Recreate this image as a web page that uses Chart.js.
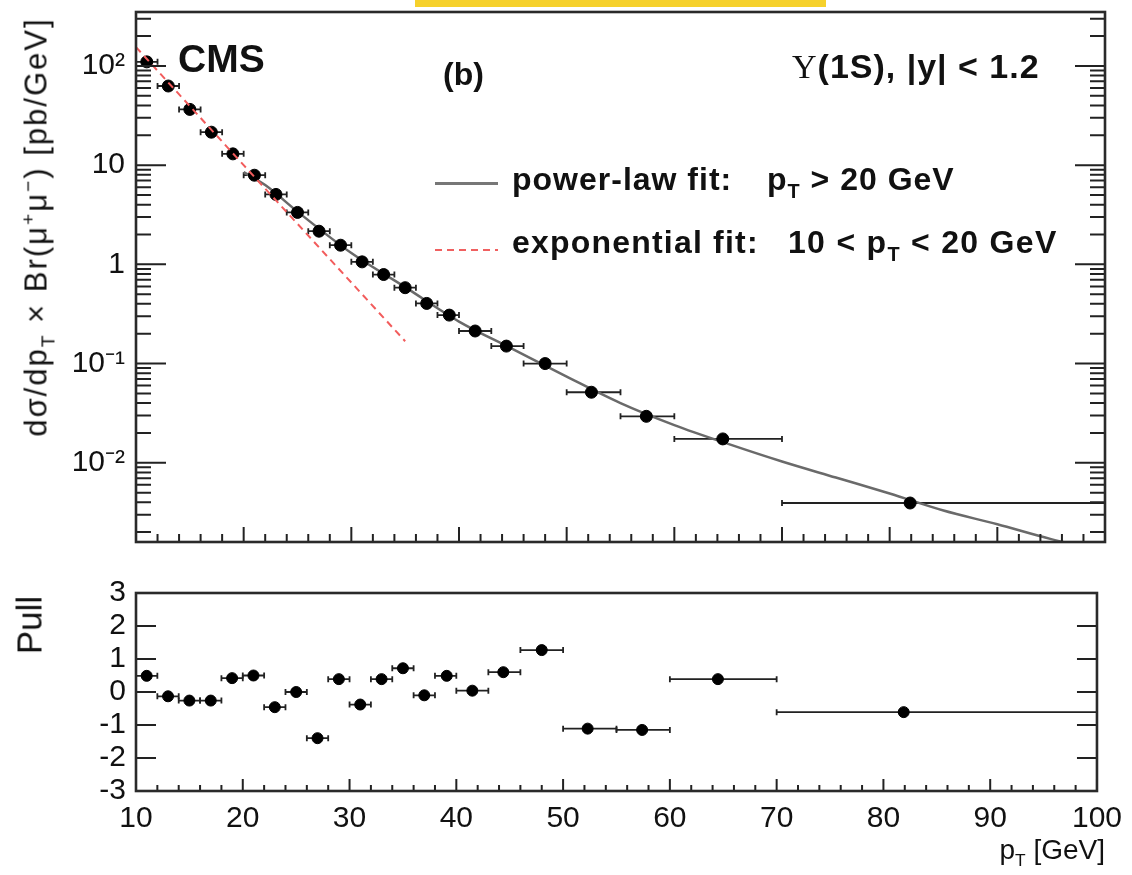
<!DOCTYPE html>
<html>
<head>
<meta charset="utf-8">
<script src="https://cdn.jsdelivr.net/npm/chart.js@4.4.1/dist/chart.umd.min.js"></script>
<style>
  body { margin: 0; background: #fff; }
  #wrap { position: relative; width: 1132px; height: 875px; overflow: hidden; background: #fff;
          font-family: "Liberation Sans", Arial, sans-serif; color: #111; }
  canvas { position: absolute; left: 0; }
  .t { position: absolute; white-space: nowrap; line-height: 1; }
  .b { font-weight: bold; }
  .t sub { font-size: 62%; vertical-align: -0.42em; line-height: 0; }
  .t sup { font-size: 62%; vertical-align: 0.62em; line-height: 0; }
</style>
</head>
<body>
<div id="wrap">
  <canvas id="topChart" width="1132" height="560" style="top:0"></canvas>
  <canvas id="pullChart" width="1132" height="315" style="top:560px"></canvas>

  <div style="position:absolute;left:415px;top:0;width:411px;height:7px;background:#f6d12c"></div>

  <div class="t b" style="left:178px;top:39px;font-size:39px">CMS</div>
  <div class="t b" style="left:443px;top:58px;font-size:32px">(b)</div>
  <div class="t b" style="left:792px;top:49px;font-size:34px;letter-spacing:1px"><span style="font-family:'Liberation Serif',serif;font-weight:normal">&Upsilon;</span>(1S), |y| &lt; 1.2</div>

  <div style="position:absolute;left:435px;top:182px;width:63px;height:3px;background:#777"></div>
  <div class="t b" style="left:512px;top:163px;font-size:32px;letter-spacing:1px">power-law fit:</div>
  <div class="t b" style="left:767px;top:163px;font-size:32px;letter-spacing:1px">p<sub>T</sub> &gt; 20 GeV</div>

  <div style="position:absolute;left:435px;top:249px;width:63px;height:2px;background:repeating-linear-gradient(90deg,#f06060 0 7px,transparent 7px 12px)"></div>
  <div class="t b" style="left:512px;top:226px;font-size:32px;letter-spacing:1.2px">exponential fit:</div>
  <div class="t b" style="left:788px;top:226px;font-size:32px;letter-spacing:1.3px">10 &lt; p<sub>T</sub> &lt; 20 GeV</div>

  <div class="t" style="left:36px;top:227px;font-size:31px;letter-spacing:2px;transform:translate(-50%,-50%) rotate(-90deg)">d&sigma;/dp<sub>T</sub> &times; Br(&mu;<sup>+</sup>&mu;<sup>&minus;</sup>) [pb/GeV]</div>
  <div class="t" style="left:29px;top:625px;font-size:35px;transform:translate(-50%,-50%) rotate(-90deg)">Pull</div>
  <div class="t" style="right:27px;top:836px;font-size:28px">p<sub>T</sub> [GeV]</div>
</div>

<script>
// bins in pT [GeV]
const binLo = [10, 12, 14, 16, 18, 20, 22, 24, 26, 28, 30, 32, 34, 36, 38, 40, 43, 46, 50, 55, 60, 70];
const binHi = [12, 14, 16, 18, 20, 22, 24, 26, 28, 30, 32, 34, 36, 38, 40, 43, 46, 50, 55, 60, 70, 100];
const ptCenter = [11, 13, 15, 17, 19, 21, 23, 25, 27, 29, 31, 33, 35, 37, 39.1, 41.5, 44.4, 48, 52.3, 57.4, 64.5, 81.9];

// dsigma/dpT x Br [pb/GeV]
const xsec = [110, 62.8, 36.5, 21.5, 13.0, 7.92, 5.07, 3.34, 2.16, 1.56, 1.06, 0.79, 0.582, 0.404,
              0.308, 0.213, 0.150, 0.100, 0.0514, 0.0294, 0.0174, 0.00393];

// pulls
const pull = [0.49, -0.13, -0.26, -0.26, 0.42, 0.50, -0.46, 0.00, -1.40, 0.39, -0.38, 0.39, 0.72, -0.10,
              0.49, 0.04, 0.60, 1.27, -1.11, -1.15, 0.39, -0.61];

// fit curves
const powerLawPt = [20, 22, 25, 30, 35, 40, 45, 50, 55, 60, 65, 70, 75, 80, 85, 90, 95, 100];
const powerLawVal = [8.5, 6.3, 3.4, 1.30, 0.59, 0.265, 0.14, 0.074, 0.040, 0.024, 0.0155, 0.0103,
                     0.0071, 0.0049, 0.0033, 0.0024, 0.0017, 0.0013];
const expoPt = [10, 20, 35];
const expoVal = [155, 10.0, 0.168];

// axis ticks
const logTickValues = [0.01, 0.1, 1, 10, 100];
const logTickLabels = ['10\u207B\u00B2', '10\u207B\u00B9', '1', '10', '10\u00B2'];
const pullTickValues = [-2, -1, 0, 1, 2];

Chart.defaults.font.family = '"Liberation Sans", Arial, sans-serif';
Chart.defaults.color = '#111';

const pts = (xs, ys) => xs.map((x, i) => ({ x: x, y: ys[i] }));

// ROOT style frame, inward ticks and horizontal error bars
const rootFrame = {
    id: 'rootFrame',
    beforeDatasetsDraw(chart, args, opts) {
        const { ctx, scales: { x, y } } = chart;
        const ds = chart.data.datasets[opts.errDataset];
        ctx.save();
        ctx.strokeStyle = '#222';
        ctx.lineWidth = 1.8;
        ds.data.forEach((p, i) => {
            const py = y.getPixelForValue(p.y);
            const x0 = x.getPixelForValue(binLo[i]);
            const x1 = x.getPixelForValue(binHi[i]);
            ctx.beginPath();
            ctx.moveTo(x0, py); ctx.lineTo(x1, py);
            ctx.moveTo(x0, py - 3); ctx.lineTo(x0, py + 3);
            ctx.moveTo(x1, py - 3); ctx.lineTo(x1, py + 3);
            ctx.stroke();
        });
        ctx.restore();
    },
    afterDraw(chart, args, opts) {
        const { ctx, chartArea: a, scales: { x, y } } = chart;
        ctx.save();
        ctx.strokeStyle = '#222';
        ctx.lineWidth = 2;
        ctx.beginPath();
        for (let v = x.min; v <= x.max; v += 2) {
            const px = x.getPixelForValue(v);
            const len = v % 10 === 0 ? opts.xMajor : opts.xMinor;
            ctx.moveTo(px, a.bottom); ctx.lineTo(px, a.bottom - len);
        }
        opts.yTicks.forEach(t => {
            const py = y.getPixelForValue(t.v);
            ctx.moveTo(a.left, py); ctx.lineTo(a.left + t.len, py);
            ctx.moveTo(a.right, py); ctx.lineTo(a.right - t.len, py);
        });
        ctx.stroke();
        ctx.lineWidth = 2.6;
        ctx.strokeStyle = '#2a2a2a';
        ctx.strokeRect(a.left, a.top, a.right - a.left, a.bottom - a.top);
        ctx.restore();
    }
};

// log ticks for the upper plot
const logTicks = [];
for (let n = -3; n <= 2; n++) {
    for (let m = 1; m <= 9; m++) {
        const v = m * Math.pow(10, n);
        if (v >= 0.00159 && v <= 350) logTicks.push({ v: v, len: m === 1 ? 30 : 15 });
    }
}

const tickFont = { size: 30 };

function fixY(s) {
    s.width = 136;
    s.paddingTop = 0;
    s.paddingBottom = 0;
}

new Chart(document.getElementById('topChart'), {
    type: 'scatter',
    data: {
        datasets: [
            { label: 'exponential fit', type: 'line', data: pts(expoPt, expoVal),
              borderColor: '#f25c5c', borderWidth: 2, borderDash: [7, 5], pointRadius: 0, order: 0 },
            { label: 'data', data: pts(ptCenter, xsec),
              backgroundColor: '#000', borderColor: '#000', pointRadius: 6, order: 1 },
            { label: 'power-law fit', type: 'line', data: pts(powerLawPt, powerLawVal),
              borderColor: '#6a6a6a', borderWidth: 2.5, pointRadius: 0,
              cubicInterpolationMode: 'monotone', order: 2 }
        ]
    },
    options: {
        responsive: false,
        animation: false,
        layout: { padding: { top: 12, right: 27, bottom: 18, left: 0 } },
        plugins: {
            legend: { display: false },
            tooltip: { enabled: false },
            rootFrame: { errDataset: 1, xMajor: 15, xMinor: 8, yTicks: logTicks }
        },
        scales: {
            x: { type: 'linear', min: 10, max: 100, display: false },
            y: {
                type: 'logarithmic', min: 0.00159, max: 350,
                grid: { display: false, drawTicks: false },
                border: { display: false },
                ticks: {
                    autoSkip: false, padding: 11, font: tickFont, color: '#111',
                    callback: v => {
                        const i = logTickValues.findIndex(t => Math.abs(Math.log10(v) - Math.log10(t)) < 1e-6);
                        return i >= 0 ? logTickLabels[i] : '';
                    }
                },
                afterFit: fixY
            }
        }
    },
    plugins: [rootFrame]
});

new Chart(document.getElementById('pullChart'), {
    type: 'scatter',
    data: {
        datasets: [
            { label: 'pull', data: pts(ptCenter, pull),
              backgroundColor: '#000', borderColor: '#000', pointRadius: 5.5 }
        ]
    },
    options: {
        responsive: false,
        animation: false,
        layout: { padding: { top: 33, right: 27, bottom: 0, left: 0 } },
        plugins: {
            legend: { display: false },
            tooltip: { enabled: false },
            rootFrame: { errDataset: 0, xMajor: 12, xMinor: 6,
                         yTicks: pullTickValues.map(v => ({ v: v, len: 20 })) }
        },
        scales: {
            x: {
                type: 'linear', min: 10, max: 100,
                grid: { display: false, drawTicks: false },
                border: { display: false },
                ticks: { stepSize: 10, autoSkip: false, padding: 10, font: tickFont, color: '#111' },
                afterFit(s) { s.height = 84; }
            },
            y: {
                min: -3, max: 3,
                grid: { display: false, drawTicks: false },
                border: { display: false },
                ticks: { stepSize: 1, autoSkip: false, padding: 10, font: tickFont, color: '#111' },
                afterFit: fixY
            }
        }
    },
    plugins: [rootFrame]
});
</script>
</body>
</html>
